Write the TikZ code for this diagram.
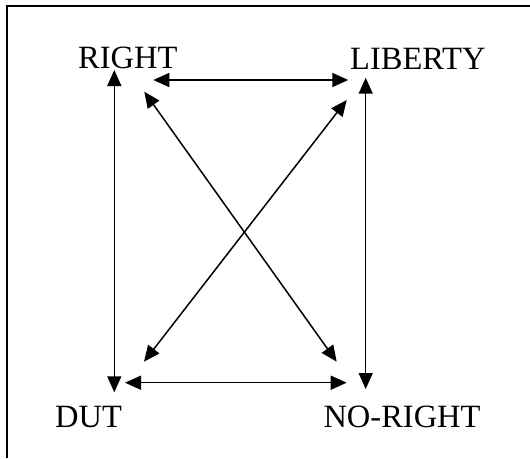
\documentclass[tikz,border=0pt]{standalone}
\usepackage{fontspec}
\setmainfont{Liberation Serif}
\usetikzlibrary{arrows.meta}
\begin{document}
\begin{tikzpicture}[x=1pt,y=-1pt,
  lbl/.style={inner sep=0pt,anchor=base west,font=\fontsize{32.5}{38}\selectfont},
  conn/.style={line width=1.5pt,{Triangle[length=16pt,width=14pt]}-{Triangle[length=16pt,width=14pt]}}]
\useasboundingbox (0,0) rectangle (530,458);
\draw[line width=2.2pt] (6.7,458) -- (6.7,6) -- (530,6);
% labels
\node[lbl] (R) at (78,68.3) {RIGHT};
\node[lbl] (L) at (350,69.3) {LIBERTY};
\node[lbl] (D) at (55,427.3) {DUT};
\node[lbl] (N) at (323.3,427.3) {NO-RIGHT};
% arrow end points
\coordinate (Rv) at (114.3,70);
\coordinate (Dv) at (114.3,392.3);
\coordinate (Lv) at (365.7,77.7);
\coordinate (Nv) at (365.7,389);
\coordinate (Rh) at (153.3,80);
\coordinate (Lh) at (348.3,80);
\coordinate (Dh) at (125,382.7);
\coordinate (Nh) at (346.7,382.7);
\coordinate (Rd) at (144.3,91.7);
\coordinate (Nd) at (336.7,361.7);
\coordinate (Ld) at (346.7,100);
\coordinate (Dd) at (144,361.7);
% connectors
\draw[conn] (Rv) -- (Dv);
\draw[conn] (Lv) -- (Nv);
\draw[conn] (Rh) -- (Lh);
\draw[conn] (Dh) -- (Nh);
\draw[conn] (Rd) -- (Nd);
\draw[conn] (Ld) -- (Dd);
\end{tikzpicture}
\end{document}
